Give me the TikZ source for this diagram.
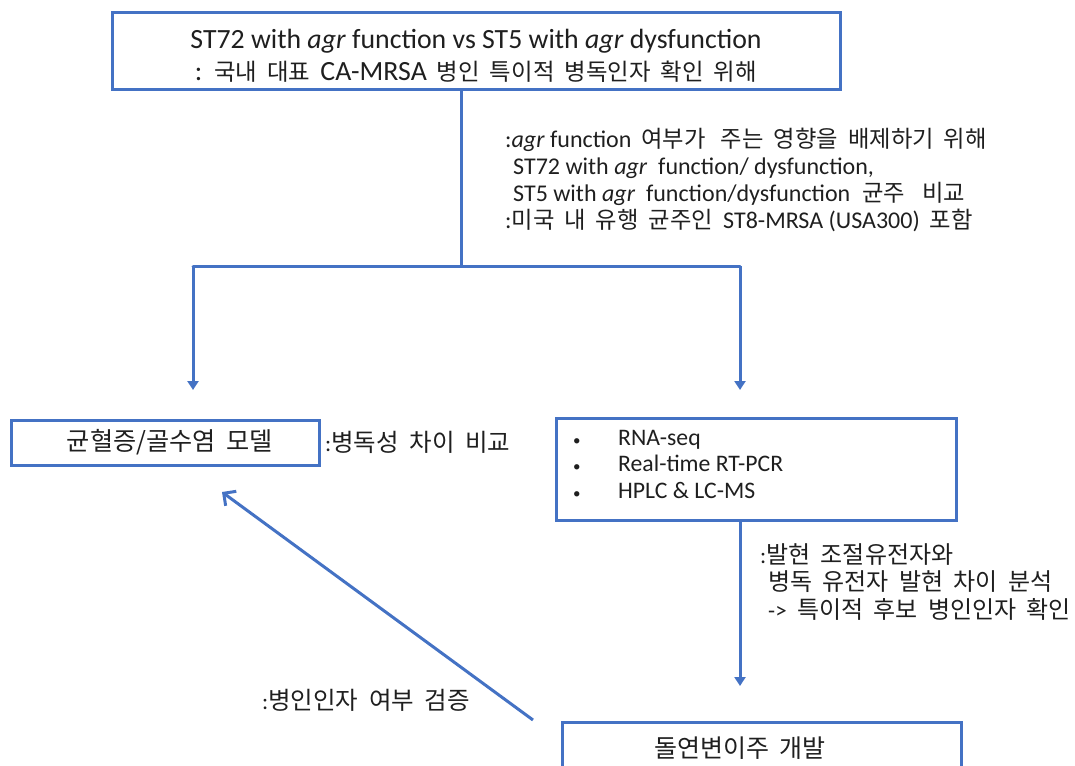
\documentclass[tikz,border=0pt]{standalone}
\usepackage{fontspec}
\setmainfont{Carlito}
\newfontfamily\kr{Noto Sans CJK KR}
\newcommand\K[2]{{\kr\fontsize{#1}{#1}\selectfont\spaceskip=0.43em\relax #2}}
\usetikzlibrary{arrows.meta}
\definecolor{bl}{HTML}{4472C4}
\begin{document}
\begin{tikzpicture}[x=1pt,y=-1pt,
  box/.style={draw=bl, line width=3pt, fill=white, inner sep=0pt},
  conn/.style={draw=bl, line width=3pt},
  arr/.style={conn, -{Triangle[width=11pt,length=9pt]}},
  txt/.style={inner sep=0pt, text=black!88},
]
\useasboundingbox (0,0) rectangle (1075,765);
\clip (0,0) rectangle (1075,765);
% boxes
\node[box, minimum width=728, minimum height=77] (top) at (476,51.5) {};
\node[txt, align=center, font=\fontsize{27.8}{32}\selectfont] (toptxt) at (476,56)
  {ST72 with \textit{agr} function vs ST5 with \textit{agr} dysfunction\\
   :\K{23.4}{ 국내 대표 }CA-MRSA\K{23.4}{ 병인 특이적 병독인자 확인 위해}};
\node[box, minimum width=308, minimum height=45, text=black!88] (model) at (165,442.5)
  {\hspace*{10pt}\K{25.2}{균혈증/골수염 모델}};
\node[box, minimum width=400, minimum height=102] (assay) at (756,469) {};
\node[txt, anchor=west, align=left, font=\fontsize{23.7}{26.5}\selectfont] (list) at (573,464)
  {\makebox[45pt][l]{\fontsize{15}{15}\selectfont\textbullet}RNA-seq\\
   \makebox[45pt][l]{\fontsize{15}{15}\selectfont\textbullet}Real-time RT-PCR\\
   \makebox[45pt][l]{\fontsize{15}{15}\selectfont\textbullet}HPLC \& LC-MS};
\node[box, minimum width=399, minimum height=80] (mut) at (761.5,762) {};
\node[txt] (muttxt) at (740,748) {\K{25}{돌연변이주 개발}};
% labels
\node[txt, anchor=west, align=left, font=\fontsize{24}{27}\selectfont] (why) at (505,179.5)
  {:\textit{agr} function\K{23.3}{ 여부가\hspace{0.65em}주는 영향을 배제하기 위해}\\
   \hspace*{8pt}ST72 with \textit{agr}\ \ function/ dysfunction,\\
   \hspace*{8pt}ST5 with \textit{agr}\ \ function/dysfunction\K{23.3}{\hspace{0.5em}균주\hspace{0.75em}비교}\\
   :\K{23.3}{미국 내 유행 균주인 }ST8-MRSA (USA300)\K{23.3}{ 포함}};
\node[txt, anchor=west, font=\fontsize{23}{24}\selectfont] (vir) at (325,442.5)
  {:\K{24.5}{병독성 차이 비교}};
\node[txt, anchor=west, align=left, font=\fontsize{23}{27.5}\selectfont] (expr) at (760,582)
  {:\K{24}{발현 조절유전자와}\\
   \hspace*{8pt}\K{24}{병독 유전자 발현 차이 분석}\\
   \hspace*{8pt}->\K{24}{ 특이적 후보 병인인자 확인}};
\node[txt, anchor=west, font=\fontsize{23}{24}\selectfont] (verify) at (262,700)
  {:\K{24.5}{병인인자 여부 검증}};
% connectors
\coordinate (j) at (461,266);
\coordinate (jl) at (193,266);
\coordinate (jr) at (740,266);
\coordinate (el) at (193,390);
\coordinate (er) at (740,390);
\coordinate (em) at (740,686);
\coordinate (ds) at (533,720);
\coordinate (de) at (222,492);
\draw[conn] (j |- top.south) -- (j);
\draw[conn, line cap=round] (jl) -- (jr);
\draw[arr] (jl) -- (el);
\draw[arr] (jr) -- (er);
\draw[arr] (er |- assay.south) -- (em);
\draw[conn, -{Straight Barb[length=9pt,width=18pt,line width=3pt]}] (ds) -- (de);
\end{tikzpicture}
\end{document}
